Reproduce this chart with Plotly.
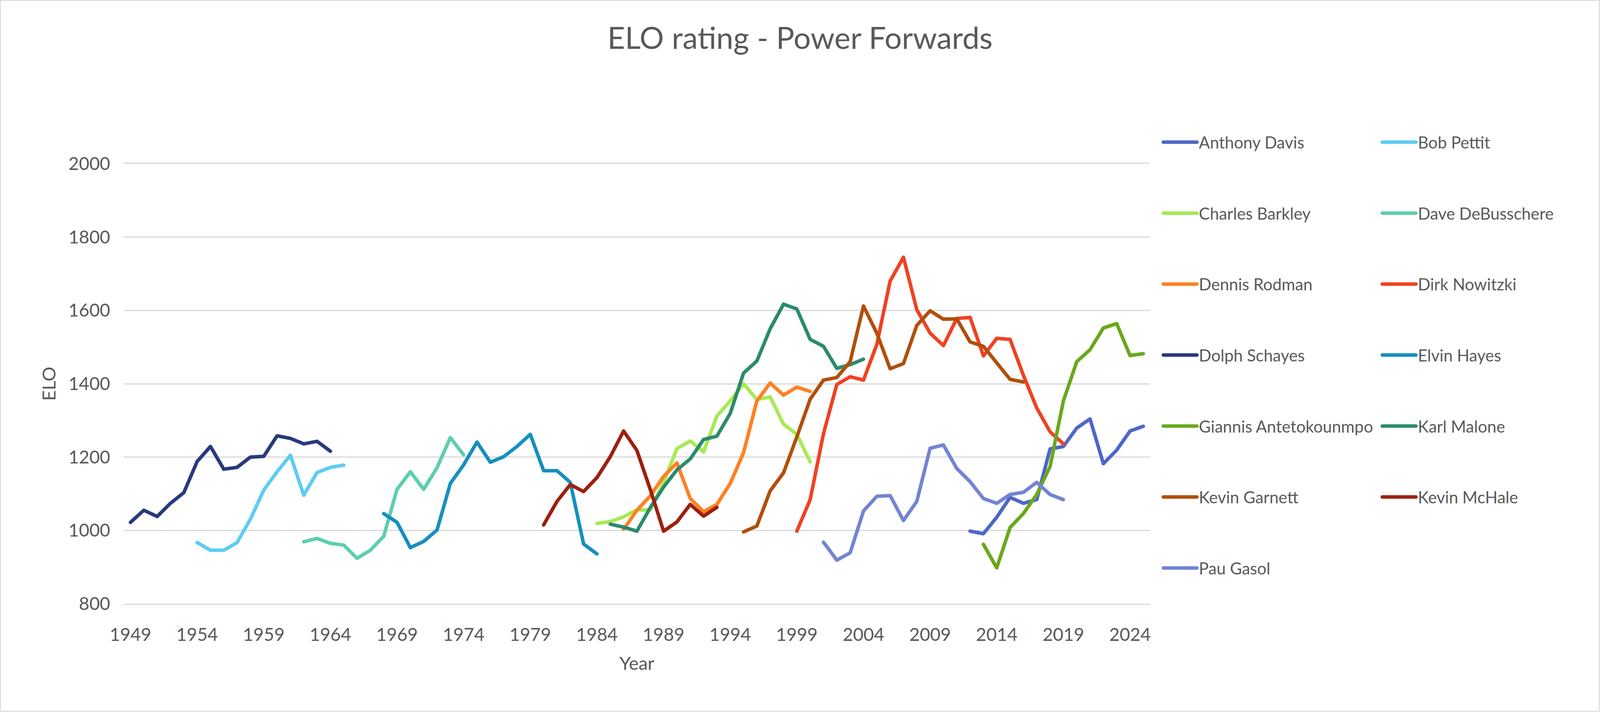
import plotly.graph_objects as go

# ---------------- data ----------------
players = ["Anthony Davis", "Bob Pettit", "Charles Barkley", "Dave DeBusschere",
           "Dennis Rodman", "Dirk Nowitzki", "Dolph Schayes", "Elvin Hayes",
           "Giannis Antetokounmpo", "Karl Malone", "Kevin Garnett", "Kevin McHale",
           "Pau Gasol"]

start_years = {
    "Anthony Davis": 2012, "Bob Pettit": 1954, "Charles Barkley": 1984,
    "Dave DeBusschere": 1962, "Dennis Rodman": 1986, "Dirk Nowitzki": 1999,
    "Dolph Schayes": 1949, "Elvin Hayes": 1968, "Giannis Antetokounmpo": 2013,
    "Karl Malone": 1985, "Kevin Garnett": 1995, "Kevin McHale": 1980,
    "Pau Gasol": 2001,
}

anthony_davis = [998, 991, 1036, 1090, 1074, 1084, 1222, 1229, 1279, 1304, 1182, 1219, 1271, 1284]
bob_pettit = [967, 946, 946, 967, 1031, 1110, 1160, 1205, 1096, 1158, 1172, 1178]
charles_barkley = [1019, 1024, 1037, 1056, 1056, 1131, 1223, 1244, 1214, 1312, 1353, 1400,
                   1357, 1364, 1290, 1262, 1187]
dave_debusschere = [969, 978, 965, 960, 924, 946, 984, 1112, 1160, 1112, 1171, 1253, 1206]
dennis_rodman = [1003, 1055, 1094, 1147, 1184, 1087, 1051, 1071, 1128, 1212, 1353, 1402,
                 1369, 1391, 1379]
dirk_nowitzki = [998, 1084, 1264, 1398, 1419, 1410, 1507, 1680, 1745, 1602, 1538, 1504,
                 1578, 1581, 1476, 1524, 1521, 1423, 1334, 1269, 1236]
dolph_schayes = [1022, 1055, 1038, 1074, 1103, 1188, 1229, 1167, 1172, 1200, 1202, 1258,
                 1251, 1236, 1243, 1216]
elvin_hayes = [1046, 1022, 953, 970, 1001, 1128, 1179, 1241, 1186, 1201, 1229, 1262, 1163,
               1163, 1131, 963, 936]
giannis = [962, 898, 1008, 1046, 1098, 1174, 1353, 1460, 1493, 1552, 1564, 1477, 1482]
karl_malone = [1017, 1009, 998, 1062, 1118, 1165, 1195, 1248, 1257, 1319, 1429, 1462, 1550,
               1617, 1604, 1521, 1502, 1442, 1452, 1467]
kevin_garnett = [996, 1012, 1108, 1157, 1255, 1358, 1410, 1417, 1460, 1612, 1538, 1441, 1455,
                 1559, 1599, 1576, 1577, 1514, 1502, 1458, 1412, 1405]
kevin_mchale = [1015, 1079, 1125, 1106, 1144, 1201, 1271, 1218, 1112, 998, 1023, 1071, 1039, 1063]
pau_gasol = [968, 919, 939, 1053, 1093, 1095, 1027, 1079, 1224, 1233, 1169, 1133, 1087, 1074,
             1098, 1104, 1131, 1098, 1084]

values = {
    "Anthony Davis": anthony_davis, "Bob Pettit": bob_pettit,
    "Charles Barkley": charles_barkley, "Dave DeBusschere": dave_debusschere,
    "Dennis Rodman": dennis_rodman, "Dirk Nowitzki": dirk_nowitzki,
    "Dolph Schayes": dolph_schayes, "Elvin Hayes": elvin_hayes,
    "Giannis Antetokounmpo": giannis, "Karl Malone": karl_malone,
    "Kevin Garnett": kevin_garnett, "Kevin McHale": kevin_mchale, "Pau Gasol": pau_gasol,
}

colors = {
    "Anthony Davis": "#4E67C8", "Bob Pettit": "#5ECCF3", "Charles Barkley": "#A7EA52",
    "Dave DeBusschere": "#5DCEAF", "Dennis Rodman": "#FF8021", "Dirk Nowitzki": "#F14124",
    "Dolph Schayes": "#283A7D", "Elvin Hayes": "#1590BE", "Giannis Antetokounmpo": "#6AA81D",
    "Karl Malone": "#2C8A6E", "Kevin Garnett": "#B14F0B", "Kevin McHale": "#9E1F0D",
    "Pau Gasol": "#7384D3",
}

tick_years = [1949, 1954, 1959, 1964, 1969, 1974, 1979, 1984, 1989, 1994, 1999, 2004,
              2009, 2014, 2019, 2024]
y_ticks = [800, 1000, 1200, 1400, 1600, 1800, 2000]

# ---------------- figure ----------------
# the browser viewport is 4096 px wide, so the reference layout is scaled horizontally
W, H = 4096, 1822
S = W / 4420.0
L = round(342 * S)
PR = round(3177 * S)
R = W - PR
T, B = 419, 1822 - 1545
PW, PH = W - L - R, H - T - B
FONT = "Lato"
TXT = "#595959"
GRID = "#D9D9D9"
ITEMW = 86

fig = go.Figure()
for i, p in enumerate(players):
    ys = values[p]
    xs = list(range(start_years[p], start_years[p] + len(ys)))
    fig.add_trace(go.Scatter(
        x=xs, y=ys, mode="lines", name=p,
        line=dict(color=colors[p], width=9),
        legend="legend" if i % 2 == 0 else "legend2",
        legendgroup=p,
        hoverinfo="skip",
    ))

legend_common = dict(
    font=dict(family=FONT, size=42, color=TXT),
    traceorder="grouped",
    tracegroupgap=124,
    bgcolor="rgba(0,0,0,0)",
    xanchor="left", yanchor="top",
    itemwidth=ITEMW,
    maxheight=1700,
)

col1_text = 3314 * S
col2_text = 3919 * S
text_offset = 42 + (ITEMW - 30)

fig.update_layout(
    width=W, height=H,
    margin=dict(l=L, r=R, t=T, b=B, pad=0, autoexpand=False),
    paper_bgcolor="white", plot_bgcolor="white",
    font=dict(family=FONT, color=TXT),
    title=dict(text="ELO rating - Power Forwards", font=dict(family=FONT, size=78, color=TXT),
               x=0.5, xref="container", xanchor="center", y=1 - 98 / H, yref="container",
               yanchor="middle"),
    showlegend=True,
    legend=dict(x=(col1_text - text_offset - L) / PW, y=1 + (T - 330) / PH, **legend_common),
    legend2=dict(x=(col2_text - text_offset - L) / PW, y=1 + (T - 330) / PH, **legend_common),
    xaxis=dict(
        range=[1948.5, 2025.5], tickmode="array", tickvals=tick_years,
        ticktext=[str(t) for t in tick_years],
        showgrid=False, zeroline=False, ticks="",
        showline=True, mirror=True, linecolor=GRID, linewidth=2.5,
        tickfont=dict(family=FONT, size=46, color=TXT),
        ticklabelstandoff=37,
        title=dict(text="Year", font=dict(family=FONT, size=47, color=TXT), standoff=33),
    ),
    yaxis=dict(
        range=[800, 2000], tickmode="array", tickvals=y_ticks,
        showgrid=True, gridcolor=GRID, gridwidth=2.5, zeroline=False, showline=False,
        ticks="", tickfont=dict(family=FONT, size=46, color=TXT),
        ticklabelstandoff=34,
        title=dict(text="ELO", font=dict(family=FONT, size=47, color=TXT), standoff=17),
    ),
    shapes=[dict(type="rect", xref="paper", yref="paper",
                 x0=-(L - 1) / PW, x1=1 + (R - 2) / PW,
                 y0=-(B - 2) / PH, y1=1 + (T - 1) / PH,
                 line=dict(color=GRID, width=2.5), fillcolor="rgba(0,0,0,0)", layer="below")],
)

post = ("document.body.style.margin='0';document.body.style.overflow='hidden';"
        "var st=document.createElement('style');"
        "st.textContent='path.js-line{stroke-linejoin:round;stroke-linecap:round;}';"
        "document.head.appendChild(st);")
fig.write_html("out.html", config={"displayModeBar": False}, post_script=post)
